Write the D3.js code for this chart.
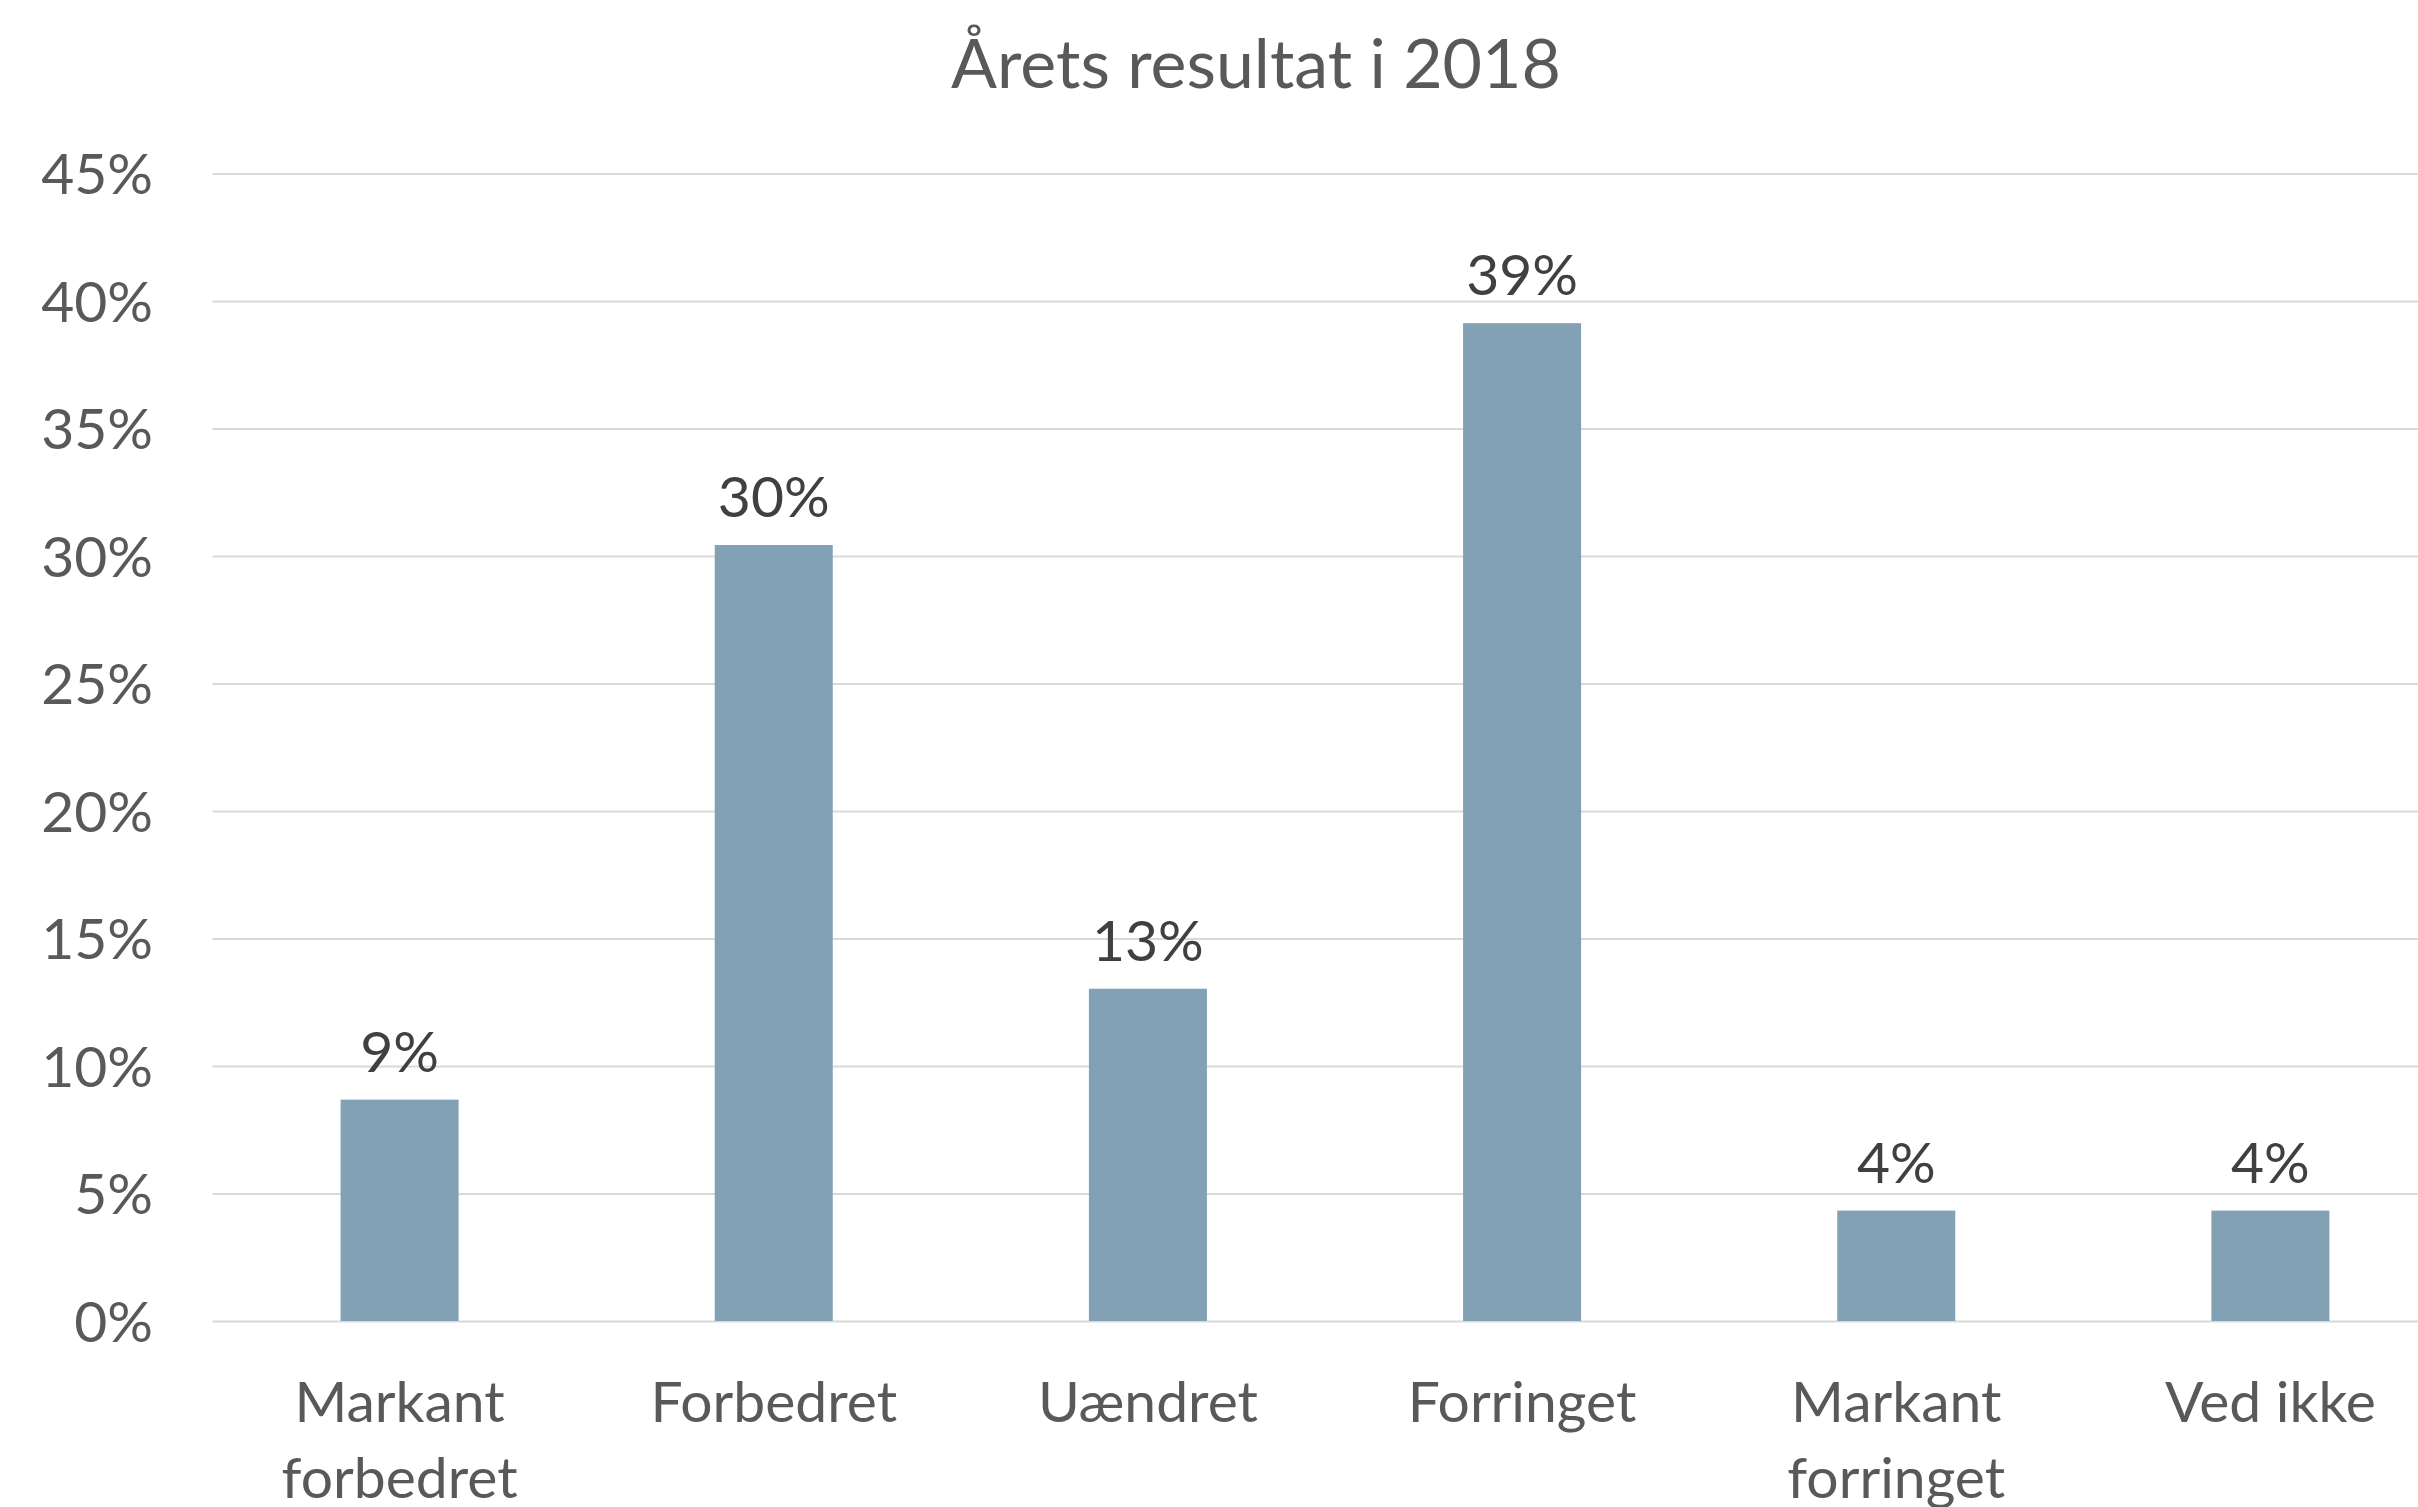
<!DOCTYPE html>
<html>
<head>
<meta charset="utf-8">
<script src="https://cdn.jsdelivr.net/npm/d3@7"></script>
<style>
  html, body { margin: 0; padding: 0; background: #ffffff; }
  svg { display: block; font-family: Lato, 'Open Sans', sans-serif; }
</style>
</head>
<body>
<div id="chart"></div>
<script>
'use strict';

// ── Data ───────────────────────────────────────────────────────────────────
const title      = 'Årets resultat i 2018';
const categories = ['Markant forbedret', 'Forbedret', 'Uændret', 'Forringet', 'Markant forringet', 'Ved ikke'];
const values     = [0.0868, 0.3043, 0.1303, 0.3913, 0.0433, 0.0433];
const valueText  = ['9%', '30%', '13%', '39%', '4%', '4%'];
const yTicks     = [0, 0.05, 0.10, 0.15, 0.20, 0.25, 0.30, 0.35, 0.40, 0.45];

const data = categories.map((c, i) => ({ cat: c, val: values[i], label: valueText[i] }));

// ── Layout ─────────────────────────────────────────────────────────────────
const fullW = 2418, fullH = 1507;
const plot = { left: 212.5, right: 2457.5, top: 173.5, bottom: 1321 };

const svg = d3.select('#chart')
  .append('svg')
  .attr('width', fullW)
  .attr('height', fullH);

const x = d3.scaleBand()
  .domain(categories)
  .range([plot.left, plot.right])
  .paddingInner(0.6846)
  .paddingOuter(0.6846 / 2);

const y = d3.scaleLinear()
  .domain([0, 0.45])
  .range([plot.bottom, plot.top]);

// Title
svg.append('text')
  .attr('x', 1256)
  .attr('y', 88)
  .attr('text-anchor', 'middle')
  .attr('fill', '#595959')
  .attr('font-size', '68px')
  .text(title);

// Grid
const grid = svg.append('g')
  .attr('transform', `translate(${plot.left},0)`)
  .call(d3.axisLeft(y).tickValues(yTicks).tickSize(-(fullW - plot.left)).tickFormat(''));
grid.select('.domain').remove();
grid.selectAll('line').attr('stroke', '#d9d9d9').attr('stroke-width', 2);

// Y axis labels
const yAxis = svg.append('g')
  .attr('transform', `translate(153,0)`)
  .call(d3.axisLeft(y).tickValues(yTicks).tickSize(0).tickPadding(0).tickFormat(d3.format('.0%')));
yAxis.select('.domain').remove();
yAxis.selectAll('text')
  .attr('fill', '#595959')
  .attr('font-size', '57px')
  .attr('font-family', 'Lato, sans-serif')
  .attr('dy', '20px');

// Bars
svg.append('g')
  .selectAll('rect')
  .data(data)
  .join('rect')
  .attr('x', d => x(d.cat))
  .attr('y', d => y(d.val))
  .attr('width', x.bandwidth())
  .attr('height', d => y(0) - y(d.val))
  .attr('fill', '#82a1b5');

// Value labels
svg.append('g')
  .selectAll('text')
  .data(data)
  .join('text')
  .attr('x', d => x(d.cat) + x.bandwidth() / 2)
  .attr('y', d => y(d.val) - 28)
  .attr('text-anchor', 'middle')
  .attr('fill', '#404040')
  .attr('font-size', '57px')
  .text(d => d.label);

// X axis labels (wrapped)
const xAxis = svg.append('g')
  .attr('transform', `translate(0,${plot.bottom})`)
  .call(d3.axisBottom(x).tickSize(0).tickPadding(0));
xAxis.select('.domain').remove();
xAxis.selectAll('text')
  .attr('fill', '#595959')
  .attr('font-size', '57px')
  .attr('font-family', 'Lato, sans-serif')
  .attr('y', 101)
  .attr('dy', 0)
  .call(wrap, 330);

function wrap(texts, width) {
  texts.each(function () {
    const text = d3.select(this);
    const words = text.text().split(/\s+/);
    const yPos = text.attr('y');
    text.text(null);
    let line = [];
    let lineNo = 0;
    let tspan = text.append('tspan').attr('x', 0).attr('y', yPos);
    words.forEach(w => {
      line.push(w);
      tspan.text(line.join(' '));
      if (tspan.node().getComputedTextLength() > width && line.length > 1) {
        line.pop();
        tspan.text(line.join(' '));
        line = [w];
        lineNo++;
        tspan = text.append('tspan').attr('x', 0).attr('y', +yPos + lineNo * 76).text(w);
      }
    });
  });
}
</script>
</body>
</html>
